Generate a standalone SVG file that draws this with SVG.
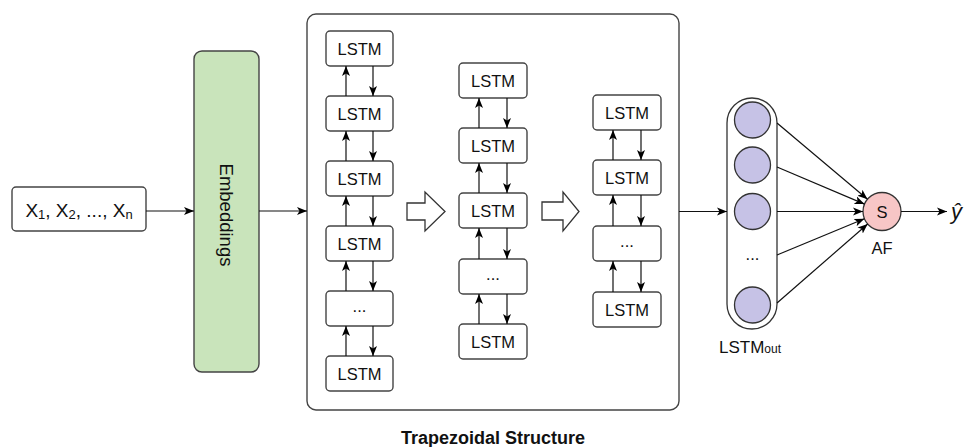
<svg xmlns="http://www.w3.org/2000/svg" width="964" height="447" viewBox="0 0 964 447">
<defs>
<marker id="ah" markerUnits="userSpaceOnUse" markerWidth="10" markerHeight="10" viewBox="0 0 10 10" refX="10" refY="5" orient="auto">
<path d="M0,1 L10,5 L0,9 L2.5,5 Z" fill="#000"/>
</marker>
<style>
text{font-family:"Liberation Sans",Arial,sans-serif;fill:#111;}
.box{fill:#fff;stroke:#444;stroke-width:1.4;}
.lbl{font-size:16.5px;text-anchor:middle;dominant-baseline:central;}
.arr{stroke:#111;stroke-width:1.2;fill:none;marker-end:url(#ah);}
.blk{fill:#fff;stroke:#333;stroke-width:1.3;}
.cir{fill:#c6c2e6;stroke:#333;stroke-width:1.3;}
</style>
</defs>
<rect width="964" height="447" fill="#fff"/>

<g id="input">
<rect class="box" x="12" y="187" width="134" height="44" rx="4"/>
<text x="79" y="217" font-size="19" text-anchor="middle">X<tspan font-size="13" dy="1.5">1</tspan><tspan dy="-1.5">, X</tspan><tspan font-size="13" dy="1.5">2</tspan><tspan dy="-1.5">, ..., X</tspan><tspan font-size="13" dy="1.5">n</tspan></text>
</g>

<g id="embeddings">
<rect x="194" y="51" width="65" height="321" rx="8" fill="#c9e4bb" stroke="#444" stroke-width="1.4"/>
<text x="226.5" y="215" font-size="18.5" text-anchor="middle" dominant-baseline="central" transform="rotate(90 226.5 215)">Embeddings</text>
</g>

<g id="trapezoid">
<rect x="307" y="14" width="372" height="396" rx="9" fill="#fff" stroke="#444" stroke-width="1.4"/>
</g>

<g id="col1">
<rect class="box" x="326" y="31" width="67" height="35" rx="4"/><text class="lbl" x="359.5" y="48.5">LSTM</text>
<rect class="box" x="326" y="96" width="67" height="35" rx="4"/><text class="lbl" x="359.5" y="113.5">LSTM</text>
<rect class="box" x="326" y="161" width="67" height="35" rx="4"/><text class="lbl" x="359.5" y="178.5">LSTM</text>
<rect class="box" x="326" y="226" width="67" height="35" rx="4"/><text class="lbl" x="359.5" y="243.5">LSTM</text>
<rect class="box" x="326" y="291" width="67" height="35" rx="4"/><text class="lbl" x="359.5" y="306">...</text>
<rect class="box" x="326" y="356" width="67" height="35" rx="4"/><text class="lbl" x="359.5" y="373.5">LSTM</text>
</g>

<g id="col2">
<rect class="box" x="459" y="63" width="68" height="35" rx="4"/><text class="lbl" x="493" y="80.5">LSTM</text>
<rect class="box" x="459" y="128" width="68" height="35" rx="4"/><text class="lbl" x="493" y="145.5">LSTM</text>
<rect class="box" x="459" y="193" width="68" height="35" rx="4"/><text class="lbl" x="493" y="210.5">LSTM</text>
<rect class="box" x="459" y="259" width="68" height="35" rx="4"/><text class="lbl" x="493" y="274">...</text>
<rect class="box" x="459" y="324" width="68" height="35" rx="4"/><text class="lbl" x="493" y="341.5">LSTM</text>
</g>

<g id="col3">
<rect class="box" x="593" y="95" width="68" height="35" rx="4"/><text class="lbl" x="627" y="112.5">LSTM</text>
<rect class="box" x="593" y="160" width="68" height="35" rx="4"/><text class="lbl" x="627" y="177.5">LSTM</text>
<rect class="box" x="593" y="226" width="68" height="35" rx="4"/><text class="lbl" x="627" y="241">...</text>
<rect class="box" x="593" y="292" width="68" height="35" rx="4"/><text class="lbl" x="627" y="309.5">LSTM</text>
</g>

<g id="shift1"><polygon class="blk" points="407,203 425,203 425,192 445,211.5 425,231 425,220 407,220"/></g>
<g id="shift2"><polygon class="blk" points="542,202 563,202 563,192 579,211.5 563,231 563,220 542,220"/></g>

<g id="lstmout">
<rect x="727" y="98" width="50" height="231" rx="25" fill="#fff" stroke="#333" stroke-width="1.3"/>
<circle class="cir" cx="752.5" cy="120" r="18"/>
<circle class="cir" cx="752.5" cy="165" r="18"/>
<circle class="cir" cx="752.5" cy="211.5" r="18"/>
<text class="lbl" x="752.5" y="254" font-size="14">...</text>
<circle class="cir" cx="752.5" cy="305" r="18"/>
<text x="719" y="353" font-size="17">LSTM<tspan font-size="12">out</tspan></text>
</g>

<g id="af">
<circle cx="882" cy="211.5" r="19" fill="#f7c6c6" stroke="#333" stroke-width="1.3"/>
<text class="lbl" x="882" y="211.5">S</text>
<text class="lbl" x="882" y="248">AF</text>
</g>

<g id="output">
<text x="951" y="219" font-size="22" font-style="italic" font-family="'Liberation Serif',serif">ŷ</text>
</g>

<g id="connectors">
<line class="arr" x1="146" y1="211" x2="194" y2="211"/>
<line class="arr" x1="259" y1="211" x2="307" y2="211"/>
<line class="arr" x1="679" y1="211.5" x2="727" y2="211.5"/>
<line class="arr" x1="901" y1="211.5" x2="947" y2="211.5"/>
<line class="arr" x1="346" y1="96" x2="346" y2="66"/><line class="arr" x1="373" y1="66" x2="373" y2="96"/>
<line class="arr" x1="346" y1="161" x2="346" y2="131"/><line class="arr" x1="373" y1="131" x2="373" y2="161"/>
<line class="arr" x1="346" y1="226" x2="346" y2="196"/><line class="arr" x1="373" y1="196" x2="373" y2="226"/>
<line class="arr" x1="346" y1="291" x2="346" y2="261"/><line class="arr" x1="373" y1="261" x2="373" y2="291"/>
<line class="arr" x1="346" y1="356" x2="346" y2="326"/><line class="arr" x1="373" y1="326" x2="373" y2="356"/>
<line class="arr" x1="479" y1="128" x2="479" y2="98"/><line class="arr" x1="507" y1="98" x2="507" y2="128"/>
<line class="arr" x1="479" y1="193" x2="479" y2="163"/><line class="arr" x1="507" y1="163" x2="507" y2="193"/>
<line class="arr" x1="479" y1="259" x2="479" y2="228"/><line class="arr" x1="507" y1="228" x2="507" y2="259"/>
<line class="arr" x1="479" y1="324" x2="479" y2="294"/><line class="arr" x1="507" y1="294" x2="507" y2="324"/>
<line class="arr" x1="613" y1="160" x2="613" y2="130"/><line class="arr" x1="641" y1="130" x2="641" y2="160"/>
<line class="arr" x1="613" y1="226" x2="613" y2="195"/><line class="arr" x1="641" y1="195" x2="641" y2="226"/>
<line class="arr" x1="613" y1="292" x2="613" y2="261"/><line class="arr" x1="641" y1="261" x2="641" y2="292"/>
<line class="arr" x1="777" y1="123" x2="867.5" y2="199.2"/>
<line class="arr" x1="777" y1="167" x2="864.5" y2="204.1"/>
<line class="arr" x1="777" y1="211.5" x2="863" y2="211.5"/>
<line class="arr" x1="777" y1="255" x2="864.4" y2="218.8"/>
<line class="arr" x1="777" y1="303" x2="867.7" y2="224"/>
</g>

<text x="493" y="444" font-size="18" font-weight="bold" text-anchor="middle">Trapezoidal Structure</text>
</svg>
